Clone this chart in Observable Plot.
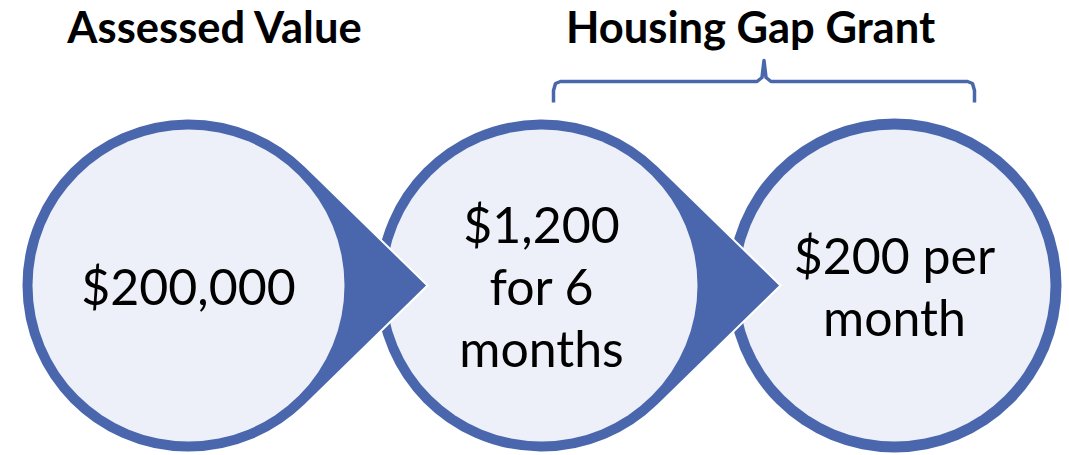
<!DOCTYPE html>
<html>
<head>
<meta charset="utf-8">
<script src="https://cdn.jsdelivr.net/npm/d3@7"></script>
<script src="https://cdn.jsdelivr.net/npm/@observablehq/plot@0.6"></script>
<style>
  html, body { margin: 0; padding: 0; background: #ffffff; }
  #chart svg { display: block; }
</style>
</head>
<body>
<div id="chart"></div>
<script>
// ---- data ----
const steps = ["Assessed Value", "Grant total", "Monthly grant"];
const stepTexts = ["$200,000", "$1,200\nfor 6\nmonths", "$200 per\nmonth"];
const stepHasArrow = [true, true, false];
const headings = ["Assessed Value", "Housing Gap Grant"];
const headingSpans = [[0, 0], [1, 2]];   // step index range each heading covers
const bracketed = [false, true];

// ---- layout ----
const W = 1069, H = 455;
const BLUE = "#4a67ad", LIGHT = "#edf0f8";
const CX0 = 188, STEP = 353, CY = 285;
const R_OUT = 167, R_IN = 156;
const TIP = 239 / 167; // tip distance relative to radius
const cx = i => CX0 + i * STEP;

// teardrop symbol: circle with tangent point to the right
const teardrop = {
  draw(context, size) {
    const r = Math.sqrt(size / Math.PI);
    const d = r * TIP;
    const t = Math.acos(r / d);
    context.moveTo(d, 0);
    context.lineTo(r * Math.cos(t), r * Math.sin(t));
    context.arc(0, 0, r, t, 2 * Math.PI - t);
    context.closePath();
  }
};

const stepData = steps.map((s, i) => ({step: s, text: stepTexts[i], arrow: stepHasArrow[i], x: cx(i), y: CY}));

// draw from last to first so each arrow overlaps the next circle
const circleMarks = stepData.slice().reverse().flatMap(d => [
  Plot.dot([d], {x: "x", y: "y", r: R_OUT, symbol: d.arrow ? teardrop : "circle",
    fill: BLUE, stroke: "white", strokeWidth: d.arrow ? 2 : 0}),
  Plot.dot([d], {x: "x", y: "y", r: R_IN, symbol: "circle", fill: LIGHT, stroke: "none"})
]);

const headingData = headings.map((h, i) => {
  const [a, b] = headingSpans[i];
  return {label: h, a, b, bracket: bracketed[i]};
});
// heading anchor positions (visual centres)
const headingX = [214, 750];

// bracket path built from the covered span
function bracketPoints(h) {
  const left = cx(h.a) - R_OUT + 179;   // 553
  const right = cx(h.b) + 80;           // 974
  const mid = (left + right) / 2;
  const yb = 102, yl = 81, yt = 60;
  return [
    [left, yb], [left, yl + 9], [left + 2, yl + 2], [left + 7, yl],
    [mid - 7, yl], [mid - 2, yl - 4], [mid, yt],
    [mid + 2, yl - 4], [mid + 7, yl],
    [right - 7, yl], [right - 2, yl + 2], [right, yl + 9], [right, yb]
  ].map(([x, y]) => ({x, y, label: h.label}));
}
const bracketData = headingData.filter(h => h.bracket).flatMap(bracketPoints);

const chart = Plot.plot({
  width: W,
  height: H,
  margin: 0,
  x: {type: "linear", domain: [0, W], range: [0, W], axis: null},
  y: {type: "linear", domain: [0, H], range: [0, H], axis: null},
  style: {background: "white", fontFamily: "Lato, 'Open Sans', sans-serif"},
  marks: [
    ...circleMarks,
    Plot.text(stepData, {x: "x", y: "y", text: "text", fontSize: 50, lineHeight: 1.24,
      fill: "black", textAnchor: "middle", fontFamily: "Lato"}),
    Plot.text(headingData, {x: (d, i) => headingX[i], y: () => 29, text: "label", fontSize: 43.5,
      fontWeight: "bold", fill: "black", textAnchor: "middle", fontFamily: "Lato"}),
    Plot.line(bracketData, {x: "x", y: "y", z: "label", stroke: BLUE, strokeWidth: 3.5,
      strokeLinejoin: "round", strokeLinecap: "butt", curve: "linear"})
  ]
});
document.getElementById("chart").appendChild(chart);
</script>
</body>
</html>
